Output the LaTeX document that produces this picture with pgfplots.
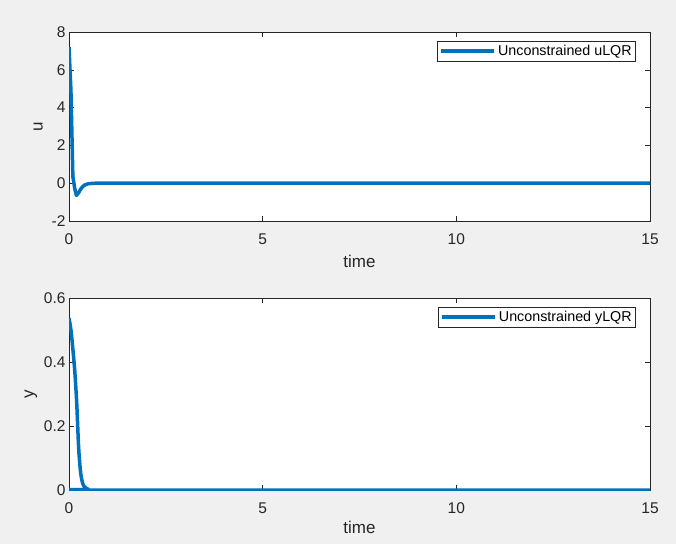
\documentclass[border=0pt]{standalone}
\usepackage{pgfplots}
\pgfplotsset{compat=1.18}
\usepackage{fontspec}
\setmainfont{Liberation Sans}
\definecolor{mlblue}{RGB}{0,114,189}
\definecolor{figbg}{RGB}{240,240,240}
\definecolor{axcol}{RGB}{38,38,38}
\pgfplotsset{
  mlstyle/.style={
    scale only axis,
    width=581pt,
    anchor=south west,
    axis background/.style={fill=white},
    axis line style={draw=axcol, line width=0.6pt},
    tick style={draw=axcol, line width=0.6pt},
    tick align=inside,
    major tick length=5pt,
    xtick pos=both, ytick pos=both,
    xmin=0, xmax=15, xtick={0,5,10,15},
    /pgf/number format/assume math mode=true,
    ticklabel style={font=\fontsize{15.5}{18}\selectfont, text=axcol},
    xticklabel style={yshift=-9pt},
    label style={font=\fontsize{17}{20}\selectfont, text=axcol},
    xlabel={time},
    legend style={at={(1,1)}, xshift=-14pt, yshift=-9pt, anchor=north east,
      draw=axcol, line width=0.6pt, font=\fontsize{14.3}{17}\selectfont,
      inner sep=2pt, row sep=0pt},
    legend image code/.code={\draw[mlblue, line width=3.5pt] (0pt,0pt) -- (53pt,0pt);},
    legend cell align=left,
  }
}
\begin{document}
\begin{tikzpicture}[x=1pt,y=1pt]
\fill[figbg] (0,0) rectangle (676,544);
\useasboundingbox (0,0) rectangle (676,544);
\begin{axis}[mlstyle, at={(69pt,323pt)}, height=189pt,
  ymin=-2, ymax=8, ytick={-2,0,2,4,6,8}, ylabel={u},
  xlabel style={yshift=-4pt}, ylabel style={yshift=2pt}]
\addplot[mlblue, line width=3.5pt, line join=round] coordinates {
(0,7.2) (0.05,4.9) (0.1,0.35) (0.15,-0.3) (0.19,-0.65) (0.25,-0.5) (0.3,-0.32) (0.35,-0.19) (0.4,-0.1) (0.5,-0.03) (0.6,-0.01) (0.7,0) (15,0)
};
\addlegendentry{Unconstrained uLQR}
\end{axis}
\begin{axis}[mlstyle, at={(69pt,54pt)}, height=192pt,
  ymin=0, ymax=0.6, ytick={0,0.2,0.4,0.6}, ylabel={y},
  xlabel style={yshift=-1pt}, ylabel style={yshift=0pt},
  yticklabel style={/pgf/number format/fixed}]
\addplot[mlblue, line width=3.5pt, line join=round, smooth] coordinates {
(0,0.537) (0.05,0.5) (0.1,0.44) (0.15,0.37) (0.2,0.27) (0.25,0.13) (0.3,0.055) (0.35,0.022) (0.4,0.01) (0.5,0.002) (0.6,0) (15,0)
};
\addlegendentry{Unconstrained yLQR}
\end{axis}
\end{tikzpicture}
\end{document}
